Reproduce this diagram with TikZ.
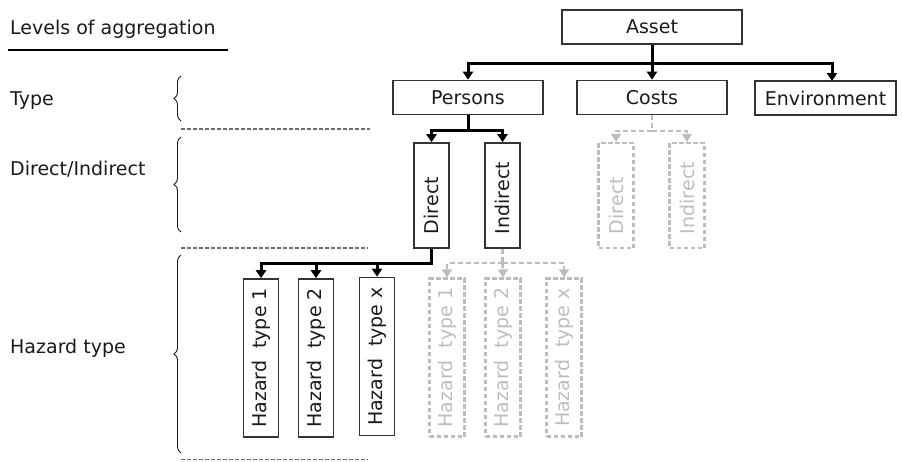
\documentclass[tikz,border=0pt]{standalone}
\usepackage{fontspec}
\setmainfont{DejaVu Sans}
\usetikzlibrary{arrows.meta,decorations.pathreplacing}
\definecolor{ink}{HTML}{1A1A1A}
\definecolor{frame}{HTML}{333333}
\definecolor{ghost}{HTML}{BDBDBD}
\definecolor{sep}{HTML}{6E6E6E}
\newcommand{\vlab}[2]{\rotatebox{90}{\makebox[#1][l]{#2}}}
\newcommand{\vmid}[1]{\rotatebox{90}{#1}}
\begin{document}
\begin{tikzpicture}[x=1pt,y=-1pt,
  every node/.style={font=\fontsize{19}{22}\selectfont, text=ink},
  hbox/.style={draw=frame, line width=1.6pt, inner sep=0pt, minimum height=34pt},
  vbox/.style={draw=frame, line width=1.6pt, inner sep=0pt, minimum width=35pt},
  gbox/.style={draw=ghost, line width=2.2pt, dash pattern=on 4.5pt off 2.5pt, inner sep=0pt, minimum width=35pt, text=ghost},
  conn/.style={draw=black, line width=3pt, -{Triangle[width=10pt,length=8pt]}},
  connl/.style={draw=black, line width=3pt},
  gconn/.style={draw=ghost, line width=2.4pt, dash pattern=on 5pt off 3pt, -{Triangle[width=10pt,length=8pt]}},
  gconnl/.style={draw=ghost, line width=2.4pt, dash pattern=on 5pt off 3pt},
  level/.style={anchor=base west, inner sep=0pt},
  sepline/.style={draw=sep, line width=1.4pt, dash pattern=on 4pt off 2pt},
  brc/.style={draw=ink, line width=0.9pt, decorate, decoration={brace, amplitude=7pt}}
]
\useasboundingbox (0,0) rectangle (902,461);

% level labels
\node[level] (lagg) at (10,34) {Levels of aggregation};
\draw[line width=1.6pt, black] (8,50) -- (228,50);
\node[level] (ltype) at (10,105) {Type};
\node[level] (ldir) at (10,175) {Direct/Indirect};
\node[level] (lhaz) at (10,353) {Hazard type};

% braces and level separators
\draw[brc] (181,121) -- (181,76);
\draw[brc] (181,232) -- (181,137);
\draw[brc] (181,453) -- (181,255);
\draw[sepline] (181,129) -- (370,129);
\draw[sepline] (181,248) -- (368,248);
\draw[sepline] (181,459.5) -- (368,459.5);

% asset and types
\node[hbox, minimum width=180pt] (asset) at (652,27) {Asset};
\node[hbox, minimum width=150pt] (persons) at (468,97.5) {Persons};
\node[hbox, minimum width=150pt] (costs) at (652,97.5) {Costs};
\node[hbox, minimum width=141pt] (env) at (825.5,98) {Environment};
\coordinate (aj) at (652,63);
\coordinate (envin) at (832,81);

\draw[connl] (asset.south) -- (aj);
\draw[conn] (aj) -| (persons.north);
\draw[conn] (asset.south) -- (costs.north);
\draw[conn] (aj) -| (envin);

% direct / indirect
\node[vbox, minimum height=105pt] (direct) at (431.5,195.5) {\vlab{77pt}{Direct}};
\node[vbox, minimum height=105pt] (indirect) at (502.5,195.5) {\vlab{77pt}{Indirect}};
\node[gbox, minimum height=105pt] (gdirect) at (616,195.5) {\vlab{77pt}{Direct}};
\node[gbox, minimum height=105pt] (gindirect) at (687,195.5) {\vlab{77pt}{Indirect}};
\coordinate (pj) at (468,130);
\coordinate (cj) at (652,131);

\draw[connl] (persons.south) -- (pj);
\draw[conn] (pj) -| (direct.north);
\draw[conn] (pj) -| (indirect.north);
\draw[gconnl] (costs.south) -- (cj);
\draw[gconn] (cj) -| (gdirect.north);
\draw[gconn] (cj) -| (gindirect.north);

% hazard types
\node[vbox, minimum height=158pt] (h1) at (261,358) {\vmid{Hazard\ \ type 1}};
\node[vbox, minimum height=158pt] (h2) at (316,358) {\vmid{Hazard\ \ type 2}};
\node[vbox, minimum height=158pt] (hx) at (377,356.5) {\vmid{Hazard\ \ type x}};
\node[gbox, minimum height=158pt] (g1) at (447,357.5) {\vmid{Hazard\ \ type 1}};
\node[gbox, minimum height=158pt] (g2) at (503,357.5) {\vmid{Hazard\ \ type 2}};
\node[gbox, minimum height=158pt] (gx) at (564,357.5) {\vmid{Hazard\ \ type x}};
\coordinate (dj) at (431.5,263);
\coordinate (ij) at (502.5,263);

\draw[connl] (direct.south) -- (dj) -- (261,263);
\draw[conn] (dj) -| (h1.north);
\draw[conn] (dj) -| (h2.north);
\draw[conn] (dj) -| (hx.north);
\draw[gconnl] (indirect.south) -- (ij);
\draw[gconn] (ij) -| (g1.north);
\draw[gconn] (ij) -- (g2.north);
\draw[gconn] (ij) -| (gx.north);
\end{tikzpicture}
\end{document}
